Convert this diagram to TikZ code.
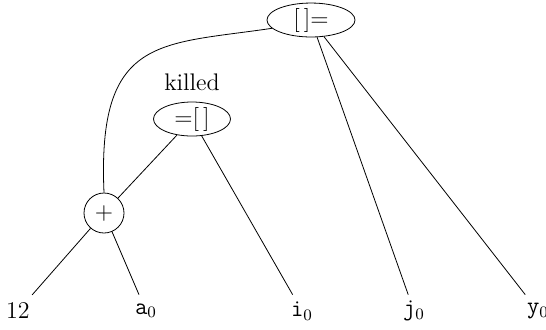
\documentclass[tikz,border=0pt]{standalone}
\usetikzlibrary{shapes.geometric}
\begin{document}
\begin{tikzpicture}[x=0.5pt,y=-0.5pt,font=\large,
  opnode/.style={draw,ellipse,inner sep=0pt,minimum width=44pt,minimum height=16.5pt},
  circnode/.style={draw,circle,inner sep=0pt,minimum size=20pt},
  leaf/.style={inner sep=1pt,minimum height=16pt},
  edge/.style={line width=0.4pt}]
\useasboundingbox (0,0) rectangle (546,329);
\node[opnode] (top) at (311,20) {$[\,]{=}$};
\node[opnode,minimum width=38.5pt,minimum height=17pt] (idx) at (192,119) {${=}[\,]$};
\node (killed) at (192,82) {killed};
\node[circnode] (plus) at (104,213) {$+$};
\node[leaf] (twelve) at (18,311) {$12$};
\node[leaf] (a) at (146,311) {$\mathtt{a}_0$};
\node[leaf] (i) at (302,311) {$\mathtt{i}_0$};
\node[leaf] (j) at (414,311) {$\mathtt{j}_0$};
\node[leaf] (y) at (538,311) {$\mathtt{y}_0$};
\draw[edge] (top.192) .. controls (160,45) and (97,35) .. (plus.north);
\draw[edge] (top) -- (j);
\draw[edge] (top) -- (y);
\draw[edge] (idx) -- (plus);
\draw[edge] (idx) -- (i);
\draw[edge] (plus) -- (twelve);
\draw[edge] (plus) -- (a);
\end{tikzpicture}
\end{document}
